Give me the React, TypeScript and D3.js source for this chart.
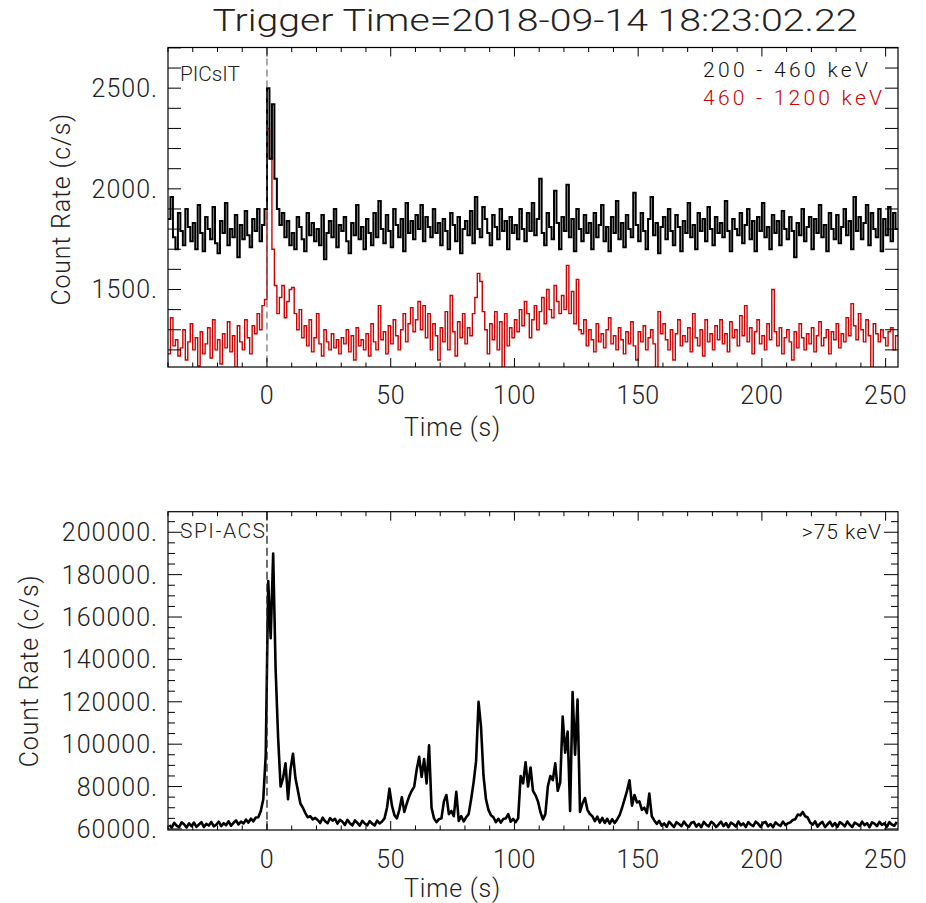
import React from "react";
import * as d3 from "d3";

// ---------------- data ----------------
const TITLE = "Trigger Time=2018-09-14 18:23:02.22";
const T_START = -40; // s, first bin start
const BIN_S = 1; // bin width (s)
const X_DOMAIN: [number, number] = [-40, 255];
const X_MAJOR_TICKS = [0, 50, 100, 150, 200, 250];
const X_MINOR_STEP = 10;

const PICSIT_Y_DOMAIN: [number, number] = [1115, 2702];
const PICSIT_Y_LABELS = [1500, 2000, 2500];
const PICSIT_Y_STEP = 100;

const ACS_Y_DOMAIN: [number, number] = [59500, 209700];
const ACS_Y_LABELS = [60000, 80000, 100000, 120000, 140000, 160000, 180000, 200000];
const ACS_Y_MINOR = 5000;

const PICSIT_LOW_LABEL = "200 - 460 keV";
const PICSIT_HIGH_LABEL = "460 - 1200 keV";
const ACS_LABEL = ">75 keV";

// PICsIT 200-460 keV, 1 s bins from -40 s
const PICSIT_LOW = [
  1850, 1960, 1760, 1700, 1880, 1790, 1720, 1900, 1810, 1740,
  1830, 1700, 1920, 1780, 1690, 1860, 1800, 1750, 1910, 1730,
  1680, 1840, 1780, 1930, 1720, 1800, 1760, 1870, 1660, 1820,
  1750, 1890, 1770, 1710, 1850, 1790, 1900, 1740, 1820, 1900,
  2500, 2150, 2420, 2050, 1900, 1820, 1880, 1760, 1840, 1720,
  1780, 1700, 1860, 1810, 1750, 1690, 1880, 1770, 1830, 1740,
  1800, 1720, 1870, 1650, 1780, 1840, 1760, 1900, 1710, 1820,
  1790, 1860, 1740, 1680, 1830, 1770, 1920, 1750, 1810, 1700,
  1850, 1780, 1720, 1880, 1760, 1940, 1800, 1730, 1870, 1790,
  1710, 1900, 1820, 1760, 1850, 1690, 1930, 1780, 1840, 1750,
  1870, 1800, 1920, 1740, 1860, 1810, 1760, 1900, 1780, 1830,
  1720, 1850, 1790, 1700, 1880, 1820, 1740, 1860, 1680, 1800,
  1840, 1770, 1890, 1730, 1960, 1800, 1760, 1910, 1850, 1780,
  1720, 1870, 1810, 1750, 1900, 1790, 1840, 1700, 1860, 1780,
  1820, 1750, 1900, 1800, 1740, 1880, 1790, 1930, 1770, 1850,
  2050, 1780, 1720, 1880, 1810, 1750, 1990, 1830, 1700, 1860,
  1790, 2020, 1760, 1850, 1690, 1900, 1800, 1740, 1870, 1780,
  1830, 1700, 1880, 1760, 1820, 1920, 1740, 1810, 1690, 1860,
  1780, 1940, 1750, 1830, 1710, 1870, 1800, 1760, 1980, 1820,
  1740, 1880, 1790, 1700, 1850, 1960, 1770, 1830, 1680, 1810,
  1860, 1750, 1900, 1790, 1720, 1870, 1810, 1690, 1840, 1780,
  1930, 1760, 1820, 1700, 1880, 1790, 1850, 1740, 1910, 1800,
  1720, 1860, 1780, 1830, 1760, 1940, 1790, 1690, 1850, 1800,
  1770, 1880, 1730, 1820, 1900, 1750, 1840, 1690, 1860, 1790,
  1930, 1760, 1810, 1700, 1870, 1780, 1840, 1720, 1890, 1800,
  1750, 1860, 1790, 1660, 1830, 1770, 1900, 1740, 1810, 1860,
  1700, 1850, 1780, 1920, 1760, 1820, 1690, 1880, 1800, 1750,
  1870, 1730, 1810, 1900, 1770, 1840, 1700, 1960, 1790, 1860,
  1750, 1830, 1920, 1720, 1880, 1800, 1760, 1900, 1690, 1850,
  1770, 1910, 1740, 1880, 1800,
];

// PICsIT 460-1200 keV, 1 s bins from -40 s
const PICSIT_HIGH = [
  1180, 1360, 1220, 1250, 1170, 1210, 1300, 1150, 1240, 1330,
  1200, 1260, 1120, 1290, 1180, 1230, 1310, 1160, 1350, 1200,
  1250, 1130, 1280, 1210, 1340, 1190, 1270, 1110, 1320, 1240,
  1200, 1350, 1260, 1180, 1320, 1280, 1380, 1300, 1420, 1450,
  2300, 2150, 1700, 1520, 1380, 1460, 1520, 1360, 1440, 1500,
  1510, 1380, 1300, 1400, 1260, 1320, 1220, 1350, 1190, 1260,
  1380, 1230, 1170, 1300, 1240, 1200, 1280, 1210, 1250, 1180,
  1260, 1230, 1300, 1190, 1270, 1150, 1310, 1220, 1250, 1200,
  1280, 1170, 1330, 1240, 1200, 1420, 1250, 1290, 1180, 1320,
  1230, 1350, 1270, 1200, 1300, 1380, 1240, 1330, 1410, 1290,
  1350, 1440, 1300, 1420, 1260, 1380, 1200, 1330, 1270, 1150,
  1310, 1240, 1390, 1200, 1470, 1290, 1170, 1340, 1260, 1380,
  1230, 1310, 1270, 1380, 1460, 1580, 1540, 1390, 1300, 1180,
  1330, 1250, 1390, 1200, 1340, 1110, 1380, 1220, 1310, 1260,
  1350, 1290, 1400, 1320, 1440, 1380, 1260, 1350, 1420, 1300,
  1390, 1460, 1330, 1500, 1400, 1360, 1520, 1440, 1380, 1470,
  1400, 1620, 1380, 1490, 1330, 1550, 1300, 1280, 1350, 1220,
  1300, 1250, 1190, 1330, 1240, 1280, 1210, 1300, 1360, 1230,
  1270, 1200, 1310, 1250, 1180, 1290, 1230, 1340, 1220, 1150,
  1290, 1240, 1320, 1200, 1260, 1300, 1230, 1110, 1390, 1280,
  1330, 1250, 1200, 1300, 1150, 1280, 1350, 1220, 1270, 1240,
  1310, 1190, 1380, 1260, 1220, 1300, 1170, 1350, 1240, 1280,
  1200, 1320, 1250, 1350, 1230, 1280, 1190, 1340, 1260, 1300,
  1220, 1370, 1270, 1420, 1240, 1310, 1180, 1290, 1350, 1230,
  1270, 1200, 1330, 1250, 1500, 1290, 1220, 1310, 1180, 1260,
  1300, 1240, 1150, 1290, 1210, 1330, 1260, 1200, 1280, 1230,
  1310, 1190, 1270, 1340, 1220, 1260, 1300, 1180, 1290, 1250,
  1330, 1210, 1280, 1240, 1360, 1270, 1430, 1320, 1250, 1380,
  1300, 1240, 1350, 1270, 1110, 1330, 1280, 1240, 1300, 1260,
  1220, 1290, 1310, 1200, 1270,
];

// SPI-ACS >75 keV, 1 s samples from -40 s
const ACS = [
  61800, 60600, 62900, 61500, 60900, 63100, 62200, 60700, 62600, 61300,
  63000, 61000, 62100, 63200, 60900, 62400, 61600, 63300, 61200, 62000,
  63400, 61300, 62700, 61800, 63600, 61500, 62900, 64000, 62100, 63500,
  62600, 64400, 63000, 64900, 63600, 65400, 65500, 68500, 74000, 95000,
  177000, 150000, 190000, 135000, 103000, 80000, 84000, 91000, 74000, 88000,
  95500, 84000, 78000, 72000, 70000, 67500, 65500, 66000, 64500, 65200,
  64200, 62800, 65300, 63600, 62700, 65100, 63900, 64800, 62500, 64300,
  63400, 61900, 64300, 62700, 61700, 64000, 62900, 61600, 63800, 62600,
  61700, 63700, 62500, 61600, 63900, 62600, 63500, 65000, 70000, 79000,
  71000, 66500, 65000, 69000, 75000, 68000, 72000, 75500, 78000, 80000,
  88000, 94000, 84500, 93000, 81500, 99500, 70000, 65000, 63200, 64600,
  65000, 73000, 76000, 67000, 68500, 66000, 77500, 63800, 66000, 63600,
  65500, 67000, 74000, 82000, 92000, 120000, 108000, 85000, 74000, 69000,
  66500, 65500, 63200, 64800, 63000, 64700, 65000, 67000, 63400, 64700,
  63200, 65000, 85000, 81500, 91500, 80000, 89000, 78000, 76000, 73000,
  68000, 64500, 67000, 80000, 85000, 83000, 91000, 78000, 82000, 113000,
  96000, 106000, 68500, 124600, 95000, 121000, 68000, 72000, 74600, 69000,
  67000, 66000, 63700, 65800, 63000, 65200, 62800, 64800, 62500, 64600,
  62800, 64500, 66500, 70000, 74000, 78000, 83000, 71000, 76000, 72500,
  73000, 69000, 70000, 67500, 76700, 66000, 64000, 62400, 63800, 61600,
  62600, 61000, 63400, 62100, 60900, 63200, 62300, 61300, 63500, 61900,
  61000, 62900, 63300, 61100, 62400, 60800, 63300, 62000, 61200, 63400,
  62500, 60900, 62100, 63400, 61300, 62800, 60800, 63000, 62200, 61100,
  63500, 61700, 62600, 60900, 63200, 62000, 61300, 63400, 62400, 61000,
  62900, 63300, 61200, 62300, 60800, 63100, 62100, 61400, 63500, 61800,
  62700, 63100, 64200, 64600, 66800, 66400, 68000, 66000, 65400, 63000,
  62000, 63600, 61100, 62500, 63300, 60900, 62200, 63400, 61300, 62800,
  61000, 63200, 62400, 61200, 63500, 62000, 60900, 63000, 62300, 61400,
  63400, 61800, 62700, 60800, 63100, 62500, 61300, 63300, 61900, 62600,
  61000, 63200, 62100, 61500, 63300,
];

// ---------------- layout / style ----------------
const W = 926;
const H = 903;
const LEFT = 168;
const RIGHT = 898;
const TOP1 = 47.5;
const BOT1 = 367;
const TOP2 = 511.7;
const BOT2 = 830;
const RED = "#cc0000";
const FONT = "Roboto, 'DejaVu Sans', sans-serif";
const FW = 300;

type Pt = { t: number; v: number };

function toSeries(vals: number[]): Pt[] {
  return vals.map((v, i) => ({ t: T_START + i * BIN_S, v }));
}

function stepSeries(vals: number[]): Pt[] {
  const s = toSeries(vals);
  s.push({ t: T_START + vals.length * BIN_S, v: vals[vals.length - 1] });
  return s;
}

const x = d3.scaleLinear().domain(X_DOMAIN).range([LEFT, RIGHT]);
const y1 = d3.scaleLinear().domain(PICSIT_Y_DOMAIN).range([BOT1, TOP1]);
const y2 = d3.scaleLinear().domain(ACS_Y_DOMAIN).range([BOT2, TOP2]);

function XAxis({ top, bottom, labelY, titleY }: { top: number; bottom: number; labelY: number; titleY: number }) {
  const minor = d3.range(Math.ceil(X_DOMAIN[0] / X_MINOR_STEP) * X_MINOR_STEP, X_DOMAIN[1] + 0.001, X_MINOR_STEP);
  return (
    <g>
      {minor.map((t) => {
        const major = X_MAJOR_TICKS.includes(t);
        const len = major ? 9 : 4.5;
        return (
          <g key={t}>
            <line x1={x(t)} x2={x(t)} y1={bottom} y2={bottom - len} stroke="#000" strokeWidth={1} />
            <line x1={x(t)} x2={x(t)} y1={top} y2={top + len} stroke="#000" strokeWidth={1} />
          </g>
        );
      })}
      {X_MAJOR_TICKS.map((t) => (
        <text key={"l" + t} x={x(t)} y={labelY} textAnchor="middle" fontSize={25} fontFamily={FONT} fontWeight={FW} letterSpacing={0.5} fill="#222">
          {t}
        </text>
      ))}
      <text x={x(75)} y={titleY} textAnchor="middle" fontSize={25} fontFamily={FONT} fontWeight={FW} letterSpacing={0.8} fill="#222">
        Time (s)
      </text>
    </g>
  );
}

function YTicks({ scale, values, len }: { scale: d3.ScaleLinear<number, number>; values: number[]; len: (v: number) => number }) {
  return (
    <g>
      {values.map((v) => (
        <g key={v}>
          <line x1={LEFT} x2={LEFT + len(v)} y1={scale(v)} y2={scale(v)} stroke="#000" strokeWidth={1} />
          <line x1={RIGHT} x2={RIGHT - len(v)} y1={scale(v)} y2={scale(v)} stroke="#000" strokeWidth={1} />
        </g>
      ))}
    </g>
  );
}

export default function App() {
  const lineStep = d3
    .line<Pt>()
    .x((d) => x(d.t))
    .curve(d3.curveStepAfter);
  const lowPath = lineStep.y((d) => y1(d.v))(stepSeries(PICSIT_LOW)) || "";
  const highPath = lineStep.y((d) => y1(d.v))(stepSeries(PICSIT_HIGH)) || "";
  const acsPath =
    d3
      .line<Pt>()
      .x((d) => x(d.t + BIN_S / 2))
      .y((d) => y2(d.v))(toSeries(ACS)) || "";

  const picsitTicks = d3.range(Math.ceil(PICSIT_Y_DOMAIN[0] / PICSIT_Y_STEP) * PICSIT_Y_STEP, PICSIT_Y_DOMAIN[1], PICSIT_Y_STEP);
  const acsTicks = d3.range(Math.ceil(ACS_Y_DOMAIN[0] / ACS_Y_MINOR) * ACS_Y_MINOR, ACS_Y_DOMAIN[1], ACS_Y_MINOR);

  return (
    <svg width={W} height={H} style={{ position: "absolute", left: 0, top: 0, background: "#fff" }}>
      <defs>
        <clipPath id="clip1">
          <rect x={LEFT} y={TOP1} width={RIGHT - LEFT} height={BOT1 - TOP1} />
        </clipPath>
        <clipPath id="clip2">
          <rect x={LEFT} y={TOP2} width={RIGHT - LEFT} height={BOT2 - TOP2} />
        </clipPath>
      </defs>
      <rect x={0} y={0} width={W} height={H} fill="#fff" />

      {/* title */}
      <text x={535} y={31} textAnchor="middle" fontSize={31} fontFamily={FONT} fontWeight={FW} fill="#222" textLength={645} lengthAdjust="spacingAndGlyphs">
        {TITLE}
      </text>

      {/* ---------- top panel: PICsIT ---------- */}
      <g clipPath="url(#clip1)">
        <path d={highPath} fill="none" stroke={RED} strokeWidth={1.4} />
        <path d={lowPath} fill="none" stroke="#000" strokeWidth={2} />
      </g>
      <line x1={x(0)} x2={x(0)} y1={TOP1} y2={BOT1} stroke="#555" strokeWidth={1} strokeDasharray="7,4" />
      <rect x={LEFT} y={TOP1} width={RIGHT - LEFT} height={BOT1 - TOP1} fill="none" stroke="#000" strokeWidth={1.2} />
      <YTicks scale={y1} values={picsitTicks} len={() => 13} />
      {PICSIT_Y_LABELS.map((v) => (
        <text key={v} x={158} y={y1(v) + 9} textAnchor="end" fontSize={25} fontFamily={FONT} fontWeight={FW} letterSpacing={1} fill="#222">
          {v + "."}
        </text>
      ))}
      <text transform={`translate(70,${(TOP1 + BOT1) / 2 + 2}) rotate(-90)`} textAnchor="middle" fontSize={25} fontFamily={FONT} fontWeight={FW} letterSpacing={0.8} fill="#222">
        Count Rate (c/s)
      </text>
      <XAxis top={TOP1} bottom={BOT1} labelY={404} titleY={436} />
      <text x={180} y={81} fontSize={20} fontFamily={FONT} fontWeight={FW} fill="#222" textLength={60} lengthAdjust="spacingAndGlyphs">
        PICsIT
      </text>
      <text x={703} y={77} fontSize={21} fontFamily={FONT} fontWeight={FW} fill="#111" textLength={165} lengthAdjust="spacing">
        {PICSIT_LOW_LABEL}
      </text>
      <text x={703} y={105} fontSize={21} fontFamily={FONT} fontWeight={FW} fill={RED} textLength={179} lengthAdjust="spacing">
        {PICSIT_HIGH_LABEL}
      </text>

      {/* ---------- bottom panel: SPI-ACS ---------- */}
      <g clipPath="url(#clip2)">
        <path d={acsPath} fill="none" stroke="#000" strokeWidth={2.6} strokeLinejoin="round" />
      </g>
      <line x1={x(0)} x2={x(0)} y1={TOP2} y2={BOT2} stroke="#222" strokeWidth={1.3} strokeDasharray="8,4" />
      <rect x={LEFT} y={TOP2} width={RIGHT - LEFT} height={BOT2 - TOP2} fill="none" stroke="#000" strokeWidth={1.2} />
      <YTicks scale={y2} values={acsTicks} len={(v) => (ACS_Y_LABELS.includes(v) ? 14 : 7)} />
      {ACS_Y_LABELS.map((v) => (
        <text key={v} x={158} y={y2(v) + 9} textAnchor="end" fontSize={25} fontFamily={FONT} fontWeight={FW} letterSpacing={1} fill="#222">
          {v + "."}
        </text>
      ))}
      <text transform={`translate(38,${(TOP2 + BOT2) / 2}) rotate(-90)`} textAnchor="middle" fontSize={25} fontFamily={FONT} fontWeight={FW} letterSpacing={0.8} fill="#222">
        Count Rate (c/s)
      </text>
      <XAxis top={TOP2} bottom={BOT2} labelY={868} titleY={897} />
      <text x={180} y={538} fontSize={21} fontFamily={FONT} fontWeight={FW} fill="#222" textLength={85} lengthAdjust="spacing">
        SPI-ACS
      </text>
      <text x={882} y={539} textAnchor="end" fontSize={21} fontFamily={FONT} fontWeight={FW} letterSpacing={1} fill="#111">
        {ACS_LABEL}
      </text>
    </svg>
  );
}
